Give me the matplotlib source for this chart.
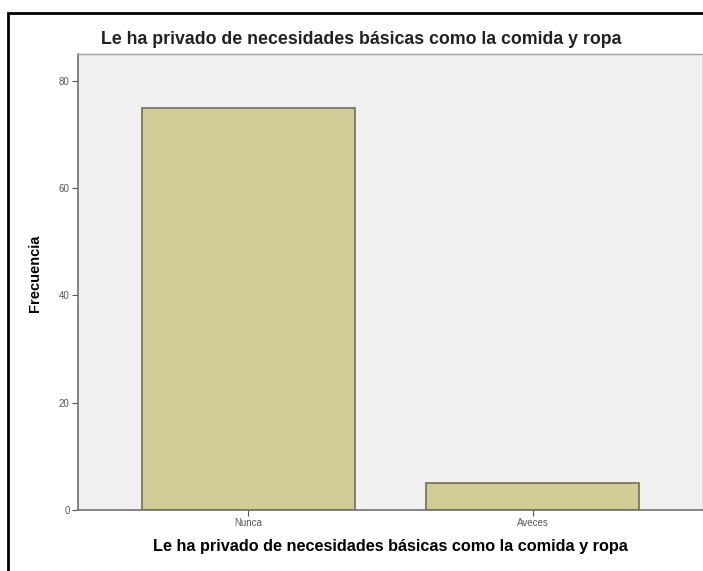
import matplotlib
matplotlib.use('Agg')
import matplotlib.pyplot as plt
from matplotlib.patches import Rectangle

plt.rcParams['font.family'] = ['Liberation Sans', 'DejaVu Sans']

# Data
categories = ['Nunca', 'Aveces']
frequencies = [75, 5]
y_ticks = [0, 20, 40, 60, 80]
title = 'Le ha privado de necesidades básicas como la comida y ropa'

fig = plt.figure(figsize=(7.03, 5.71), dpi=100)

# Outer frame of the exported chart (cut at right and bottom)
fig.patches.append(Rectangle((8 / 703, -0.05), 1.2, (571 - 13) / 571 + 0.05,
                             transform=fig.transFigure, fill=False,
                             edgecolor='black', linewidth=2))

ax = fig.add_axes([78 / 703, 61 / 571, (703 - 78) / 703, (510 - 54) / 571])
ax.set_facecolor('#F0F0F0')

x = range(len(categories))
ax.bar(x, frequencies, width=0.75, color='#D2CC96', edgecolor='#6E6E5E', linewidth=1.2, zorder=2)

ax.set_xlim(-0.6, 1.6)
ax.set_ylim(0, 85)
ax.set_xticks(list(x))
ax.set_xticklabels(categories, fontsize=7, color='#555555')
ax.set_yticks(y_ticks)
ax.set_yticklabels([str(v) for v in y_ticks], fontsize=7, color='#555555')
ax.tick_params(length=4, width=0.8, color='#555555', pad=2)

for side in ['left', 'bottom']:
    ax.spines[side].set_color('#707070')
    ax.spines[side].set_linewidth(1.2)
for side in ['top', 'right']:
    ax.spines[side].set_color('#A0A0A0')
    ax.spines[side].set_linewidth(1.0)

ax.set_xlabel(title, fontsize=11.7, fontweight='bold', labelpad=8)
ax.set_ylabel('Frecuencia', fontsize=10.5, fontweight='bold')
ax.yaxis.set_label_coords(-0.058, 0.52)
fig.text(361 / 703, 1 - 40 / 571, title, fontsize=12.8, fontweight='bold',
         color='#222222', ha='center', va='center')

fig.savefig('out.png', dpi=100)
